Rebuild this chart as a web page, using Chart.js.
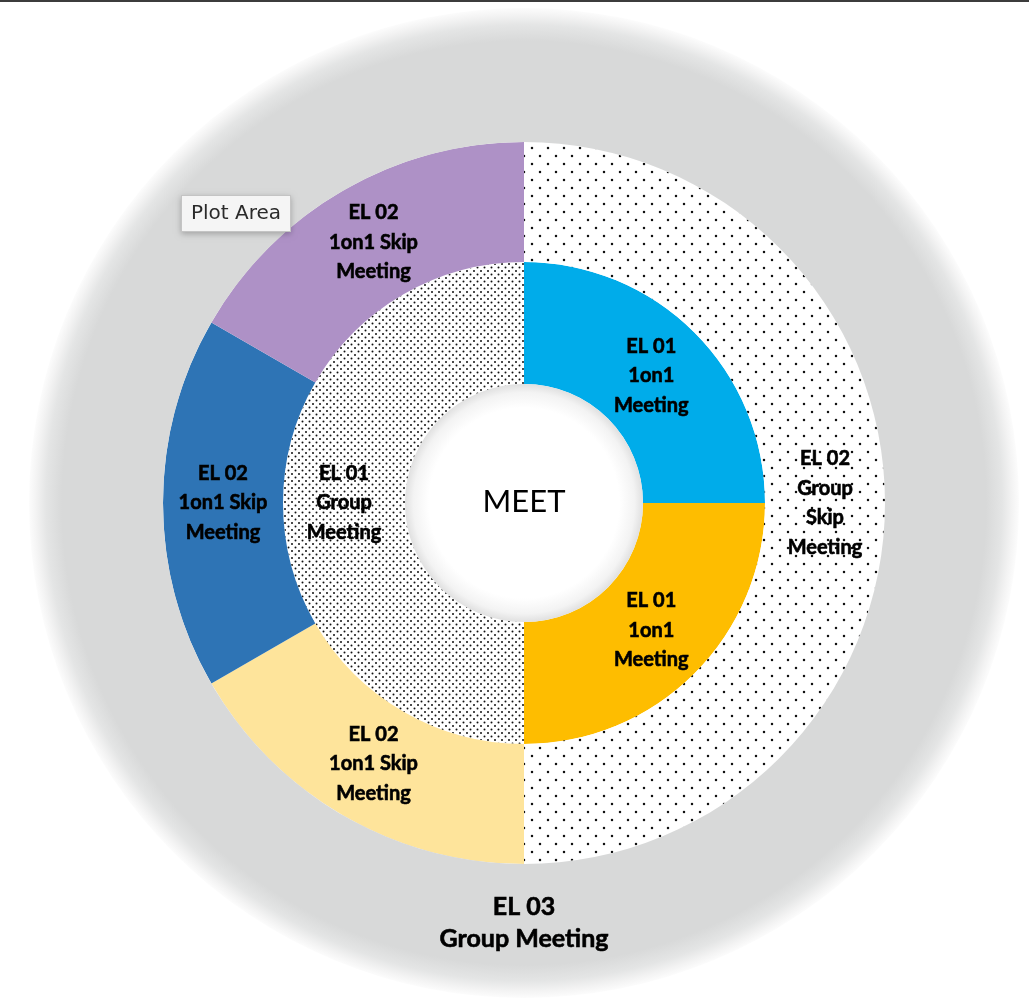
<!DOCTYPE html>
<html>
<head>
<meta charset="utf-8">
<script src="https://cdn.jsdelivr.net/npm/chart.js@4.4.1/dist/chart.umd.min.js"></script>
<style>
  html, body { margin: 0; padding: 0; background: #fff; }
  #wrap { width: 1029px; height: 998px; position: relative; }
</style>
</head>
<body>
<div id="wrap"><canvas id="myChart" width="1029" height="998"></canvas></div>
<script>
// ring data, outer to inner (chart.js draws dataset 0 as the outermost ring)
const outerLabels = ['EL 03 Group Meeting'];
const outerValues = [1];
const outerText = [['EL 03', 'Group Meeting']];

const middleLabels = ['EL 02 Group Skip Meeting', 'EL 02 1on1 Skip Meeting', 'EL 02 1on1 Skip Meeting', 'EL 02 1on1 Skip Meeting'];
const middleValues = [3, 1, 1, 1];
const middleText = [
  ['EL 02', 'Group', 'Skip', 'Meeting'],
  ['EL 02', '1on1 Skip', 'Meeting'],
  ['EL 02', '1on1 Skip', 'Meeting'],
  ['EL 02', '1on1 Skip', 'Meeting']
];

const innerLabels = ['EL 01 1on1 Meeting', 'EL 01 1on1 Meeting', 'EL 01 Group Meeting'];
const innerValues = [1, 1, 2];
const innerText = [
  ['EL 01', '1on1', 'Meeting'],
  ['EL 01', '1on1', 'Meeting'],
  ['EL 01', 'Group', 'Meeting']
];

const centerText = 'MEET';

// dotted fills
function dotPattern(size, dots, r) {
  const c = document.createElement('canvas');
  c.width = size; c.height = size;
  const g = c.getContext('2d');
  g.fillStyle = '#fff';
  g.fillRect(0, 0, size, size);
  g.fillStyle = '#111';
  dots.forEach(d => {
    g.beginPath();
    g.arc(d[0], d[1], r, 0, Math.PI * 2);
    g.fill();
  });
  return g.createPattern(c, 'repeat');
}
const sparseDots = dotPattern(16, [[4, 4], [12, 12]], 1.25);
const denseDots = dotPattern(7, [[1.5, 1.5], [5, 5]], 1.0);

// grey ring with a soft edge (gradient from the chart area, not from the arc)
function greyRing(context) {
  const area = context.chart.chartArea;
  if (!area) return '#d8d9d9';
  const cx = (area.left + area.right) / 2;
  const cy = (area.top + area.bottom) / 2;
  const R = Math.min(area.right - area.left, area.bottom - area.top) / 2;
  if (!isFinite(cx) || !isFinite(cy) || !(R > 0)) return '#d8d9d9';
  const g = context.chart.ctx.createRadialGradient(cx, cy, 0, cx, cy, R);
  g.addColorStop(0, '#d8d9d9');
  g.addColorStop(462 / 495, '#d8d9d9');
  g.addColorStop(478 / 495, '#e4e5e5');
  g.addColorStop(488 / 495, '#f3f3f3');
  g.addColorStop(1, '#fcfcfc');
  return g;
}

const decoPlugin = {
  id: 'deco',
  beforeDraw(chart) {
    const ctx = chart.ctx;
    ctx.save();
    ctx.fillStyle = '#3c3c3c';
    ctx.fillRect(0, 0, chart.width, 2);
    ctx.restore();
  },
  afterDatasetsDraw(chart) {
    const ctx = chart.ctx;
    const inner = chart.getDatasetMeta(2).data[0];
    const cx = inner.x, cy = inner.y, hr = inner.innerRadius;

    // center hole with soft inner shade
    ctx.save();
    const hg = ctx.createRadialGradient(cx, cy, 0, cx, cy, hr);
    hg.addColorStop(0, '#ffffff');
    hg.addColorStop(0.8, '#ffffff');
    hg.addColorStop(0.93, '#f3f3f3');
    hg.addColorStop(1, '#e0e0e0');
    ctx.fillStyle = hg;
    ctx.beginPath();
    ctx.arc(cx, cy, hr, 0, Math.PI * 2);
    ctx.fill();

    ctx.fillStyle = '#000';
    ctx.strokeStyle = '#000';
    ctx.textAlign = 'center';
    ctx.textBaseline = 'middle';
    ctx.font = '31px Lato';
    ctx.fillText(centerText, cx, cy - 1);

    // slice labels
    const texts = [outerText, middleText, innerText];
    texts.forEach((set, i) => {
      const meta = chart.getDatasetMeta(i);
      const big = i === 0;
      const size = big ? 25 : 20;
      const lh = big ? 32 : 29.5;
      ctx.font = 'bold ' + size + 'px Lato';
      ctx.lineWidth = 0.6;
      meta.data.forEach((arc, j) => {
        const p = arc.tooltipPosition();
        const lines = set[j];
        const y0 = p.y - (lines.length - 1) * lh / 2 - (big ? 8 : 0);
        lines.forEach((t, k) => {
          ctx.fillText(t, p.x, y0 + k * lh);
          ctx.strokeText(t, p.x, y0 + k * lh);
        });
      });
    });

    // "Plot Area" hover box
    ctx.shadowColor = 'rgba(0,0,0,0.25)';
    ctx.shadowBlur = 6;
    ctx.shadowOffsetY = 2;
    ctx.fillStyle = '#f5f5f5';
    ctx.fillRect(181, 195, 110, 37);
    ctx.shadowColor = 'transparent';
    ctx.strokeStyle = '#c4c4c4';
    ctx.lineWidth = 1;
    ctx.strokeRect(181.5, 195.5, 109, 36);
    ctx.fillStyle = '#2a2a2a';
    ctx.font = '20px "DejaVu Sans"';
    ctx.fillText('Plot Area', 236, 214);
    ctx.restore();
  }
};

const myChart = document.getElementById('myChart');

let donut = new Chart(myChart, {
  type: 'doughnut',
  data: {
    labels: middleLabels,
    datasets: [
      {
        label: 'outer',
        data: outerValues,
        backgroundColor: greyRing,
        weight: 134
      },
      {
        label: 'middle',
        data: middleValues,
        backgroundColor: [sparseDots, '#fee49b', '#2e74b5', '#ae91c6'],
        weight: 120
      },
      {
        label: 'inner',
        data: innerValues,
        backgroundColor: ['#00acea', '#febd00', denseDots],
        weight: 122
      }
    ]
  },
  options: {
    responsive: false,
    animation: false,
    cutout: 119,
    layout: { padding: { left: 19, top: 8, right: 0, bottom: 0 } },
    elements: { arc: { borderWidth: 0 } },
    plugins: {
      legend: { display: false },
      tooltip: { enabled: false }
    }
  },
  plugins: [decoPlugin]
});
</script>
</body>
</html>
